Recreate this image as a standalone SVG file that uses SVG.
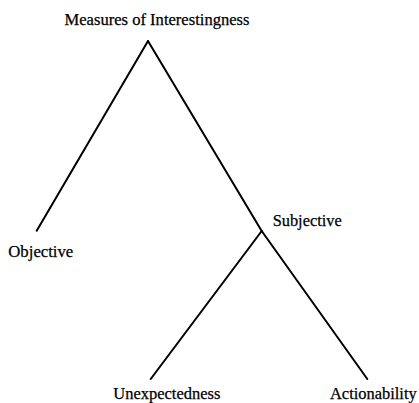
<svg xmlns="http://www.w3.org/2000/svg" width="419" height="403" viewBox="0 0 419 403">
<style>
.lbl{font-family:"Liberation Serif","Times New Roman",serif;font-size:16.5px;fill:#000;stroke:#000;stroke-width:0.25}
.edge{stroke:#000;stroke-width:2;fill:none;stroke-linecap:round}
</style>
<rect width="419" height="403" fill="#fff"/>
<g id="connectors">
<line class="edge" x1="148" y1="41" x2="36.7" y2="230.7"/>
<line class="edge" x1="148" y1="41" x2="261.7" y2="231"/>
<line class="edge" x1="261.7" y1="231" x2="367.3" y2="379"/>
<line class="edge" x1="261.7" y1="231" x2="150.7" y2="379"/>
</g>
<g id="node-root"><text class="lbl" x="64.5" y="25" textLength="185" lengthAdjust="spacingAndGlyphs">Measures of Interestingness</text></g>
<g id="node-objective"><text class="lbl" x="8.3" y="257.3" textLength="65" lengthAdjust="spacingAndGlyphs">Objective</text></g>
<g id="node-subjective"><text class="lbl" x="272.7" y="226" textLength="69" lengthAdjust="spacingAndGlyphs">Subjective</text></g>
<g id="node-unexpectedness"><text class="lbl" x="113.3" y="399.3" textLength="107" lengthAdjust="spacingAndGlyphs">Unexpectedness</text></g>
<g id="node-actionability"><text class="lbl" x="330" y="399.3" textLength="86.7" lengthAdjust="spacingAndGlyphs">Actionability</text></g>
</svg>
